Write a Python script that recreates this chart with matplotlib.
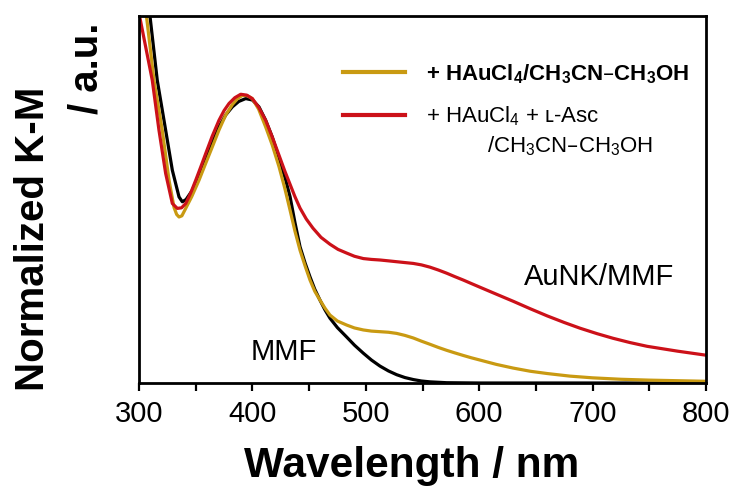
import matplotlib
matplotlib.use("Agg")
import matplotlib.pyplot as plt
from matplotlib.ticker import MultipleLocator

plt.rcParams['font.family'] = ['Liberation Sans', 'DejaVu Sans']
plt.rcParams['mathtext.default'] = 'regular'

# Normalized Kubelka-Munk spectra (wavelength in nm)
mmf_wl = [300, 309.7, 316.1, 323.5, 329.4, 335.3, 338.2, 341.5, 347.0,
          352.5, 358.8, 364.5, 370.5, 376.5, 382.3, 388.0, 394.1, 400.0,
          405.8, 411.5, 417.5, 423.5, 429.4, 433.2, 437.5, 442.0, 446.5,
          450.8, 455.0, 459.6, 464.0, 468.4, 475.0, 483.2, 490.0, 497.8,
          505.0, 512.5, 520.0, 527.2, 534.5, 541.9, 549.0, 556.6, 571.3,
          600, 700, 800]
mmf_km = [1.61, 1.279, 1.056, 0.882, 0.742, 0.649, 0.632, 0.640, 0.672,
          0.722, 0.777, 0.838, 0.893, 0.935, 0.963, 0.982, 0.992, 0.987,
          0.963, 0.918, 0.858, 0.785, 0.707, 0.650, 0.560, 0.475, 0.418,
          0.370, 0.327, 0.289, 0.255, 0.226, 0.193, 0.160, 0.132, 0.104,
          0.080, 0.059, 0.042, 0.029, 0.019, 0.012, 0.007, 0.004, 0.001,
          0.0, 0.0, 0.0]

hau_wl = [300, 306.6, 313.2, 320.5, 326.5, 330.9, 333.2, 335.3, 337.8,
          341.2, 346.5, 352.9, 358.5, 364.6, 370.5, 376.5, 382.5, 387.0,
          391.1, 395.5, 399.9, 405.5, 411.7, 417.5, 423.5, 428.5, 433.2,
          437.5, 442.0, 446.5, 450.8, 455.0, 459.6, 464.0, 468.4, 475.0,
          483.2, 490.0, 497.8, 505.0, 512.5, 520.0, 527.2, 534.5, 541.9,
          549.0, 556.6, 564.0, 571.3, 578.5, 586.0, 593.0, 600.7, 615,
          630, 645, 660, 680, 700, 725, 750, 775, 800]
hau_km = [1.50, 1.279, 1.056, 0.882, 0.707, 0.612, 0.588, 0.579, 0.583,
          0.609, 0.650, 0.707, 0.763, 0.823, 0.882, 0.935, 0.972, 0.992,
          1.003, 1.002, 0.992, 0.955, 0.893, 0.830, 0.754, 0.680, 0.603,
          0.530, 0.463, 0.408, 0.359, 0.320, 0.289, 0.261, 0.237, 0.216,
          0.202, 0.192, 0.185, 0.181, 0.179, 0.177, 0.173, 0.166, 0.157,
          0.146, 0.135, 0.124, 0.114, 0.105, 0.096, 0.088, 0.080, 0.065,
          0.052, 0.041, 0.033, 0.024, 0.018, 0.013, 0.010, 0.008, 0.006]

asc_wl = [300, 305.5, 311.7, 317.6, 323.5, 329.4, 333.8, 337.5, 341.2,
          345.5, 350.0, 354.5, 358.8, 364.5, 370.5, 375.0, 379.4, 384.5,
          389.7, 395.0, 399.9, 405.5, 411.7, 417.5, 423.5, 428.5, 433.2,
          437.5, 442.0, 447.5, 453.4, 460.5, 468.4, 475.5, 483.2, 490.0,
          497.8, 505.0, 512.5, 520.0, 527.2, 534.5, 541.9, 549.0, 556.6,
          564.0, 571.3, 578.5, 586.0, 593.0, 600.7, 615, 630, 645, 660,
          675, 689, 704, 718, 733, 748, 775, 800]
asc_km = [1.29, 1.18, 1.056, 0.882, 0.731, 0.626, 0.609, 0.611, 0.626,
          0.662, 0.707, 0.754, 0.800, 0.860, 0.916, 0.950, 0.975, 0.995,
          1.007, 1.004, 0.992, 0.962, 0.916, 0.858, 0.794, 0.740, 0.693,
          0.650, 0.610, 0.572, 0.540, 0.508, 0.484, 0.466, 0.453, 0.442,
          0.434, 0.431, 0.429, 0.426, 0.423, 0.420, 0.417, 0.412, 0.404,
          0.394, 0.383, 0.371, 0.359, 0.347, 0.334, 0.310, 0.285, 0.259,
          0.234, 0.211, 0.191, 0.172, 0.156, 0.141, 0.128, 0.111, 0.097]

label_hau = '+ HAuCl$_4$/CH$_3$CN\u2013CH$_3$OH'
label_asc = '+ HAuCl$_4$ + \u029f-Asc'
label_asc_2 = '/CH$_3$CN\u2013CH$_3$OH'

black = '#000000'
gold = '#C99A12'
red = '#CC1119'

fig = plt.figure(figsize=(7.33, 4.95), dpi=100)
ax = fig.add_axes([139/733, 1 - 383/495, 567/733, 367/495])

ax.plot(mmf_wl, mmf_km, color=black, lw=2.3, solid_joinstyle='round')
l_hau, = ax.plot(hau_wl, hau_km, color=gold, lw=2.3, solid_joinstyle='round')
l_asc, = ax.plot(asc_wl, asc_km, color=red, lw=2.3, solid_joinstyle='round')

ax.set_xlim(300, 800)
ax.set_ylim(0, 1.28)
ax.set_yticks([])
ax.xaxis.set_major_locator(MultipleLocator(100))
ax.xaxis.set_minor_locator(MultipleLocator(50))
ax.tick_params(axis='x', which='major', length=6, width=1.6, labelsize=21,
               pad=6, direction='out')
ax.tick_params(axis='x', which='minor', length=6, width=1.6, direction='out')
for s in ax.spines.values():
    s.set_linewidth(2.0)

ax.set_xlabel('Wavelength / nm', fontsize=30.5, fontweight='bold',
              labelpad=13)
ax.xaxis.label.set_x(0.481)

fig.text(33/733, 1 - 239/495, 'Normalized K-M', rotation=90, fontsize=29,
         fontweight='bold', ha='center', va='center')
fig.text(86/733, 1 - 68/495, '/ a.u.', rotation=90, fontsize=29,
         fontweight='bold', ha='center', va='center')

ax.text(428, 0.108, 'MMF', fontsize=21, ha='center', va='center')
ax.text(705.6, 0.369, 'AuNK/MMF', fontsize=21, ha='center', va='center')

leg = ax.legend([l_hau, l_asc], [label_hau, label_asc], loc='upper left',
                bbox_to_anchor=(347/733 - 0.006, 1 - 62/495),
                bbox_transform=fig.transFigure, frameon=False, fontsize=16,
                handlelength=2.8, handletextpad=0.95, labelspacing=0.85,
                borderpad=0, borderaxespad=0)
leg.get_texts()[0].set_fontweight('bold')
for h in leg.get_lines():
    h.set_linewidth(3)

fig.text(486.7/733, 1 - 146.7/495, label_asc_2, fontsize=16,
         ha='left', va='center')

fig.savefig('out.png', dpi=100)
